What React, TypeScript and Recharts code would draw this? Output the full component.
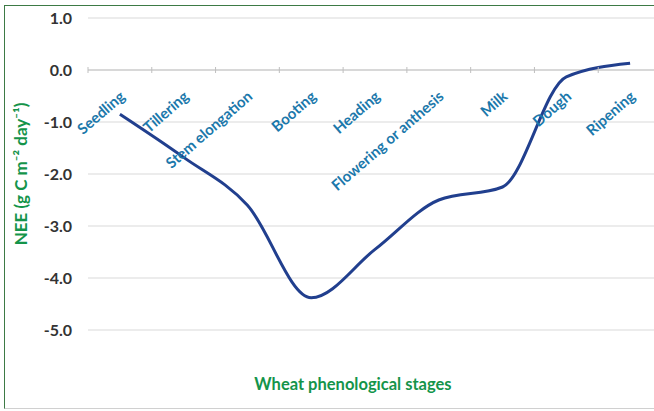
import React from 'react';
import { LineChart, Line, XAxis, YAxis, CartesianGrid, ReferenceLine } from 'recharts';

const STAGES = ['Seedling', 'Tillering', 'Stem elongation', 'Booting', 'Heading', 'Flowering or anthesis', 'Milk', 'Dough', 'Ripening'];
const NEE = [-0.85, -1.68, -2.6, -4.38, -3.45, -2.5, -2.25, -0.13, 0.13];
const Y_TICKS = [1, 0, -1, -2, -3, -4, -5];

const Y_MIN = -5;
const Y_MAX = 1;
const TOP = 18;
const PLOT_H = 312;
const ZERO_Y = TOP + (PLOT_H * Y_MAX) / (Y_MAX - Y_MIN);

const data = STAGES.map((stage, i) => ({ stage, nee: NEE[i] }));

const FONT = 'Lato, "Open Sans", sans-serif';

const StageTick = (props: any) => {
  const { x, payload, index, visibleTicksCount } = props;
  const off = payload && payload.offset ? payload.offset : 0;
  return (
    <g>
      {off > 0 && <line x1={x - off} x2={x - off} y1={ZERO_Y - 3} y2={ZERO_Y + 3} stroke="#bfbfbf" />}
      {off > 0 && index === visibleTicksCount - 1 && (
        <line x1={x + off} x2={x + off} y1={ZERO_Y - 3} y2={ZERO_Y + 3} stroke="#bfbfbf" />
      )}
      <text
        x={x + 6}
        y={ZERO_Y + 28}
        textAnchor="end"
        transform={`rotate(-41, ${x + 6}, ${ZERO_Y + 28})`}
        fill="#1b78ab"
        fontSize={15}
        fontWeight={700}
        fontFamily={FONT}
      >
        {payload.value}
      </text>
    </g>
  );
};

const YTitle = (props: any) => {
  const vb = props.viewBox || { y: TOP, height: PLOT_H };
  const cy = vb.y + vb.height / 2;
  return (
    <text
      transform={`translate(20, ${cy}) rotate(-90)`}
      textAnchor="middle"
      dominantBaseline="central"
      fill="#14944a"
      fontSize={17}
      fontWeight={700}
      fontFamily={FONT}
    >
      NEE (g C m⁻² day⁻¹)
    </text>
  );
};

export default function App() {
  return (
    <div style={{ position: 'fixed', left: 0, top: 0, width: 654, height: 411, overflow: 'hidden', background: '#fff' }}>
      <div
        style={{
          position: 'absolute',
          left: 4,
          top: 5,
          width: 700,
          height: 404,
          borderLeft: '1.5px solid #3d7a45',
          borderTop: '1.5px solid #3d7a45',
          borderBottom: '1px solid #d0d0d0',
          boxSizing: 'border-box',
        }}
      />
      <div style={{ position: 'absolute', left: 0, top: 0 }}>
        <LineChart width={690} height={411} data={data} margin={{ top: TOP, right: 28, bottom: 0, left: 0 }}>
          <CartesianGrid vertical={false} stroke="#d9d9d9" />
          <XAxis
            dataKey="stage"
            scale="band"
            height={81}
            axisLine={false}
            tickLine={false}
            interval={0}
            tick={<StageTick />}
            label={{
              value: 'Wheat phenological stages',
              position: 'insideBottom',
              offset: 21,
              dx: -22,
              fill: '#14944a',
              fontSize: 16.5,
              fontWeight: 700,
              fontFamily: FONT,
            }}
          />
          <YAxis
            width={88}
            domain={[Y_MIN, Y_MAX]}
            ticks={Y_TICKS}
            allowDataOverflow
            axisLine={false}
            tickLine={false}
            tickSize={0}
            tickMargin={16}
            tickFormatter={(v: number) => v.toFixed(1)}
            tick={{ fill: '#333', fontSize: 16, fontWeight: 700, fontFamily: FONT }}
            label={{ content: <YTitle /> }}
          />
          <ReferenceLine y={0} stroke="#c4c4c4" />
          <Line
            type="monotone"
            dataKey="nee"
            stroke="#213f8e"
            strokeWidth={3}
            dot={false}
            isAnimationActive={false}
          />
        </LineChart>
      </div>
    </div>
  );
}
